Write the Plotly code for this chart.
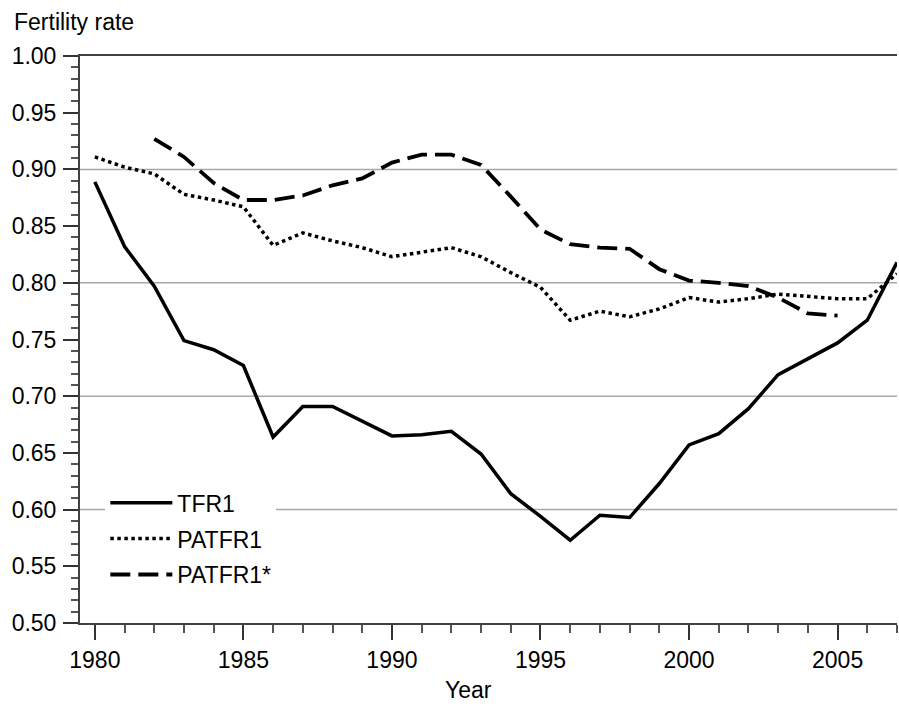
import plotly.graph_objects as go

years = list(range(1980, 2008))
tfr1 = [0.889, 0.832, 0.797, 0.749, 0.741, 0.727, 0.664, 0.691, 0.691, 0.678,
        0.665, 0.666, 0.669, 0.649, 0.614, 0.594, 0.573, 0.595, 0.593, 0.623,
        0.657, 0.667, 0.689, 0.719, 0.733, 0.747, 0.767, 0.818]
patfr1 = [0.911, 0.902, 0.896, 0.878, 0.873, 0.867, 0.833, 0.844, 0.837, 0.831,
          0.823, 0.827, 0.831, 0.823, 0.809, 0.796, 0.767, 0.775, 0.770, 0.777,
          0.787, 0.783, 0.786, 0.790, 0.788, 0.786, 0.786, 0.808]
years_star = list(range(1982, 2006))
patfr1_star = [0.927, 0.911, 0.888, 0.873, 0.873, 0.877, 0.886, 0.892, 0.906, 0.913,
               0.913, 0.904, 0.876, 0.847, 0.834, 0.831, 0.830, 0.812, 0.802, 0.800,
               0.797, 0.787, 0.773, 0.771]
grid_levels = [0.6, 0.7, 0.8, 0.9]

FONT = "Liberation Sans, Arial, Helvetica, sans-serif"
FS = 23

fig = go.Figure()
fig.add_trace(go.Scatter(x=years, y=tfr1, mode="lines", name="TFR1", legendgroup="a",
                         line=dict(color="black", width=3.5)))
fig.add_trace(go.Scatter(x=years, y=patfr1, mode="lines", name="PATFR1", legendgroup="b",
                         line=dict(color="black", width=3.5, dash="dot")))
fig.add_trace(go.Scatter(x=years_star, y=patfr1_star, mode="lines", name="PATFR1*", legendgroup="c",
                         line=dict(color="black", width=3.8, dash="20px,8px")))

for g in grid_levels:
    fig.add_hline(y=g, line=dict(color="#a8a8a8", width=1.5), layer="below")

fig.update_layout(
    width=899, height=704,
    margin=dict(l=80, r=2, t=56, b=81, autoexpand=False),
    paper_bgcolor="white", plot_bgcolor="white",
    font=dict(family=FONT, size=FS, color="black"),
    showlegend=True,
    legend=dict(x=0.031, y=0.25, xanchor="left", yanchor="top",
                bgcolor="white", borderwidth=0, tracegroupgap=3,
                itemwidth=62, font=dict(size=FS)),
    xaxis=dict(range=[1979.5, 2007.0], tickmode="linear", tick0=1980, dtick=5,
               automargin=False,
               showline=True, linecolor="#404040", linewidth=2, mirror=True,
               ticks="outside", ticklen=15, tickwidth=1.5, tickcolor="#333",
               showgrid=False, zeroline=False,
               minor=dict(ticks="outside", dtick=1, tick0=1980, ticklen=8,
                          tickwidth=1.5, tickcolor="#555", showgrid=False)),
    yaxis=dict(range=[0.5, 1.0], tickmode="linear", tick0=0.5, dtick=0.05,
               tickformat=".2f", automargin=False, ticklabelstandoff=2,
               showline=True, linecolor="#404040", linewidth=2,
               ticks="outside", ticklen=15, tickwidth=1.5, tickcolor="#333",
               showgrid=False, zeroline=False,
               minor=dict(ticks="outside", dtick=0.01, tick0=0.5, ticklen=7,
                          tickwidth=1.5, tickcolor="#555", showgrid=False)),
    annotations=[
        dict(text="Fertility rate", xref="paper", yref="paper", x=-0.0832, y=1.06,
             xanchor="left", yanchor="middle", showarrow=False,
             font=dict(size=FS, family=FONT)),
        dict(text="Year", xref="paper", yref="paper", x=0.476, y=-0.118,
             xanchor="center", yanchor="middle", showarrow=False,
             font=dict(size=FS, family=FONT)),
    ],
)

fig.write_html(
    "out.html",
    config={"displayModeBar": False},
    post_script="document.body.style.margin='0px';document.documentElement.style.overflow='hidden';document.body.style.overflow='hidden';",
)
